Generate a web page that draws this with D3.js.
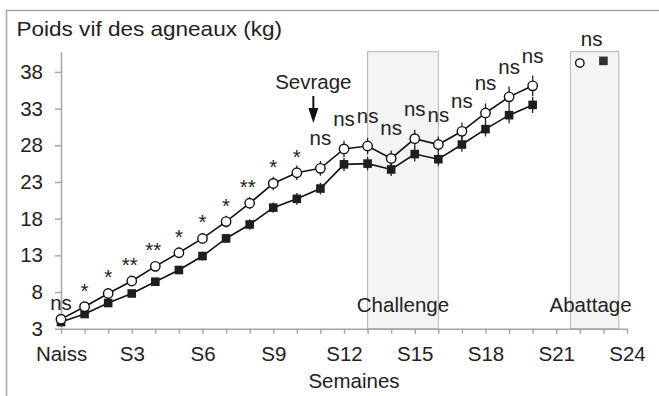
<!DOCTYPE html>
<html>
<head>
<meta charset="utf-8">
<script src="https://d3js.org/d3.v7.min.js"></script>
<style>
body { margin: 0; background: #fff; }
text { font-family: "Liberation Sans", Arial, sans-serif; fill: #222; }
</style>
</head>
<body>
<svg id="chart" width="659" height="396"></svg>
<script>
// weeks 0 (naissance) to 20
var weeks = d3.range(0, 21);
var circleVals = [4.3, 6.0, 7.8, 9.5, 11.5, 13.35, 15.3, 17.6, 20.1, 22.8, 24.25, 24.85, 27.5, 27.9, 26.2, 28.9, 28.1, 29.9, 32.4, 34.6, 36.1];
var squareVals = [3.9, 5.0, 6.5, 7.8, 9.4, 11.0, 12.9, 15.3, 17.2, 19.5, 20.7, 22.1, 25.4, 25.5, 24.7, 26.8, 26.1, 28.1, 30.2, 32.1, 33.5];
var circleErr = [0.4, 0.5, 0.5, 0.6, 0.6, 0.7, 0.7, 0.8, 0.8, 0.9, 1.0, 1.0, 1.1, 1.1, 1.1, 1.2, 1.1, 1.2, 1.3, 1.4, 1.4];
var squareErr = [0.3, 0.4, 0.4, 0.5, 0.5, 0.5, 0.6, 0.6, 0.7, 0.7, 0.8, 0.8, 0.9, 0.9, 0.9, 1.0, 0.9, 1.0, 1.0, 1.1, 1.1];
var sigLabels = ["ns", "*", "*", "**", "**", "*", "*", "*", "**", "*", "*", "ns", "ns", "ns", "ns", "ns", "ns", "ns", "ns", "ns", "ns"];

// abattage
var slaughterWeeks = [22, 23];
var slaughterVals = [39.2, 39.5];
var slaughterSig = "ns";

var xTickWeeks = d3.range(0, 25);
var xTickLabels = {0: "Naiss", 3: "S3", 6: "S6", 9: "S9", 12: "S12", 15: "S15", 18: "S18", 21: "S21", 24: "S24"};
var yTicks = [3, 8, 13, 18, 23, 28, 33, 38];
var periods = [{label: "Challenge", start: 13, end: 16}, {label: "Abattage", start: 21.6, end: 23.65}];
var weaningWeek = 10.7;

var svg = d3.select('#chart');
var x = d3.scaleLinear().domain([0, 24]).range([61, 627]);
var y = d3.scaleLinear().domain([3, 40.75]).range([328.7, 51.7]);
var axisCol = '#a6a6a6';
var fs = 20.5;

// cadre
svg.append('rect')
  .attr('x', 6.5).attr('y', 10.5).attr('width', 720).attr('height', 460)
  .attr('fill', 'none').attr('stroke', '#a8a8a8').attr('stroke-width', 1.5);

svg.append('text')
  .attr('transform', 'translate(16.5,36) scale(1.1,1)')
  .attr('font-size', 20.5)
  .text('Poids vif des agneaux (kg)');

// periodes grisées
periods.forEach(function(p) {
  svg.append('rect')
    .attr('x', x(p.start)).attr('y', y.range()[1])
    .attr('width', x(p.end) - x(p.start))
    .attr('height', y.range()[0] - y.range()[1])
    .attr('fill', '#f4f4f4').attr('stroke', '#b3b3b3').attr('stroke-width', 1);
  svg.append('text')
    .attr('x', (x(p.start) + x(p.end)) / 2 - (p.label == 'Abattage' ? 4 : 0))
    .attr('y', 312)
    .attr('text-anchor', 'middle')
    .attr('font-size', fs)
    .text(p.label);
});

// axes
var gy = svg.append('g')
  .attr('transform', 'translate(' + x(0) + ',0)')
  .call(d3.axisLeft(y).tickValues(yTicks).tickSize(6).tickSizeOuter(0).tickPadding(12));
var gx = svg.append('g')
  .attr('transform', 'translate(0,' + y(3) + ')')
  .call(d3.axisBottom(x).tickValues(xTickWeeks).tickSize(5).tickSizeOuter(0).tickPadding(13)
    .tickFormat(function(d) { return xTickLabels[d] || ''; }));
[gx, gy].forEach(function(g) {
  g.attr('font-size', fs).attr('font-family', '"Liberation Sans", Arial, sans-serif');
  g.selectAll('path, line').attr('stroke', axisCol).attr('stroke-width', 1.5);
  g.selectAll('text').attr('fill', '#222');
});

svg.append('text')
  .attr('x', 354).attr('y', 388)
  .attr('text-anchor', 'middle')
  .attr('font-size', fs)
  .text('Semaines');

// barres d'erreur
function errBars(vals, errs) {
  svg.append('g').selectAll('line')
    .data(weeks)
    .enter()
    .append('line')
      .attr('x1', function(d) { return x(d); })
      .attr('x2', function(d) { return x(d); })
      .attr('y1', function(d, i) { return y(vals[i] + errs[i]); })
      .attr('y2', function(d, i) { return y(vals[i] - errs[i]); })
      .attr('stroke', '#222').attr('stroke-width', 1.3);
}
errBars(squareVals, squareErr);
errBars(circleVals, circleErr);

var line = d3.line().x(function(d, i) { return x(weeks[i]); }).y(function(d) { return y(d); });
svg.append('path').datum(squareVals).attr('d', line)
  .attr('fill', 'none').attr('stroke', '#111').attr('stroke-width', 1.6);
svg.append('path').datum(circleVals).attr('d', line)
  .attr('fill', 'none').attr('stroke', '#111').attr('stroke-width', 1.6);

// marqueurs
svg.append('g').selectAll('rect')
  .data(squareVals)
  .enter()
  .append('rect')
    .attr('x', function(d, i) { return x(weeks[i]) - 4.3; })
    .attr('y', function(d) { return y(d) - 4.3; })
    .attr('width', 8.6).attr('height', 8.6)
    .attr('fill', '#1e1e1e');
svg.append('g').selectAll('circle')
  .data(circleVals)
  .enter()
  .append('circle')
    .attr('cx', function(d, i) { return x(weeks[i]); })
    .attr('cy', function(d) { return y(d); })
    .attr('r', 4.7)
    .attr('fill', '#fff').attr('stroke', '#111').attr('stroke-width', 1.4);

// abattage
svg.append('circle')
  .attr('cx', x(slaughterWeeks[0])).attr('cy', y(slaughterVals[0])).attr('r', 4.2)
  .attr('fill', '#fff').attr('stroke', '#111').attr('stroke-width', 1.4);
svg.append('rect')
  .attr('x', x(slaughterWeeks[1]) - 4.3).attr('y', y(slaughterVals[1]) - 4.3)
  .attr('width', 8.6).attr('height', 8.6).attr('fill', '#333');
svg.append('text')
  .attr('x', (x(slaughterWeeks[0]) + x(slaughterWeeks[1])) / 2)
  .attr('y', y(slaughterVals[0]) - 17)
  .attr('text-anchor', 'middle').attr('font-size', fs)
  .text(slaughterSig);

// significativite
svg.append('g').selectAll('text')
  .data(sigLabels)
  .enter()
  .append('text')
    .attr('x', function(d, i) { return x(weeks[i]) - (d == '**' ? 2 : 0); })
    .attr('y', function(d, i) { return y(circleVals[i]) - (d == 'ns' && i > 0 ? 23 : 9); })
    .attr('text-anchor', 'middle')
    .attr('font-size', fs)
    .text(function(d) { return d; });

// sevrage
var ax = x(weaningWeek);
svg.append('text')
  .attr('x', ax).attr('y', 89)
  .attr('text-anchor', 'middle').attr('font-size', fs)
  .text('Sevrage');
svg.append('line')
  .attr('x1', ax).attr('x2', ax).attr('y1', 96).attr('y2', 110)
  .attr('stroke', '#111').attr('stroke-width', 2);
svg.append('path')
  .attr('d', 'M' + (ax - 5) + ',108 L' + (ax + 5) + ',108 L' + ax + ',123 Z')
  .attr('fill', '#111');
</script>
</body>
</html>
